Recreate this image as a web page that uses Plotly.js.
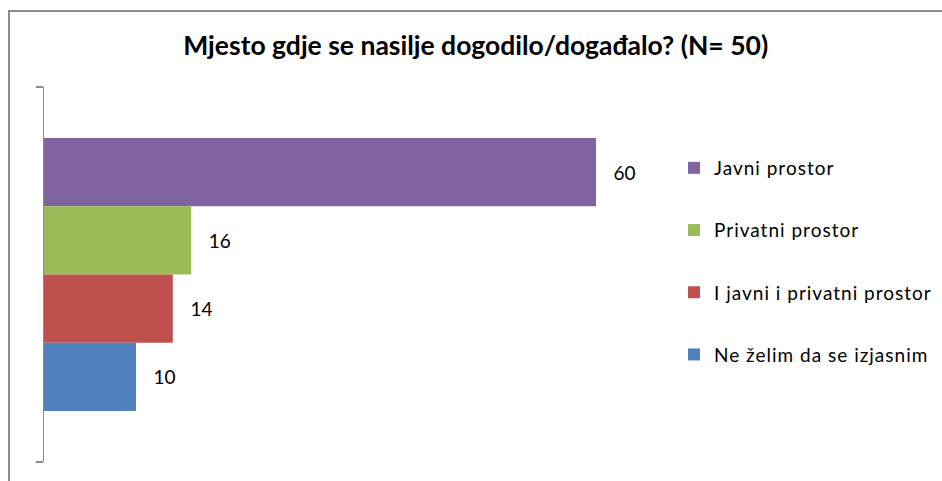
<!DOCTYPE html>
<html>
<head>
<meta charset="utf-8">
<script src="https://cdn.plot.ly/plotly-3.0.1.min.js"></script>
<style>
html,body{margin:0;padding:0;background:#fff;}
#wrap{position:relative;width:942px;height:481px;overflow:hidden;}
#chart{width:942px;height:481px;}
#frame{position:absolute;left:8px;top:10px;width:1000px;height:600px;border-left:2px solid #8c8c8c;border-top:2px solid #8c8c8c;pointer-events:none;}
#chart .legendtext{letter-spacing:1px;}
#chart .legend, #chart .legend *{clip-path:none !important;}
</style>
</head>
<body>
<div id="wrap"><div id="chart"></div><div id="frame"></div></div>
<script>
const titleText = 'Mjesto gdje se nasilje dogodilo/događalo? (N= 50)';
const category = ['Mjesto'];
const seriesNames = ['Javni prostor', 'Privatni prostor', 'I javni i privatni prostor', 'Ne želim da se izjasnim'];
const seriesValues = [60, 16, 14, 10];
const seriesColors = ['#8064A2', '#9BBB59', '#C0504D', '#4F81BD'];

const traces = seriesNames.map((name, i) => ({
  type: 'bar',
  orientation: 'h',
  name: name,
  y: category,
  x: [seriesValues[i]],
  marker: {color: seriesColors[i], line: {width: 0}},
  text: [String(seriesValues[i])],
  texttemplate: '\u00a0\u00a0\u00a0%{text}',
  textposition: 'outside',
  cliponaxis: false,
  textfont: {family: 'Lato, "Liberation Sans", sans-serif', size: 19, color: '#000'},
  legendgroup: 'g' + i,
  hoverinfo: 'skip'
}));

const layout = {
  width: 942, height: 481,
  margin: {l: 44, r: 254, t: 87, b: 19, autoexpand: false},
  paper_bgcolor: '#fff', plot_bgcolor: '#fff',
  barmode: 'group', bargap: 0.272, bargroupgap: 0,
  showlegend: true,
  title: {
    text: '<b>' + titleText + '</b>',
    font: {family: 'Lato, "Liberation Sans", sans-serif', size: 26.5, weight: 900, color: '#000'},
    x: 0.505, xref: 'container', xanchor: 'center',
    y: 1 - 46/481, yref: 'container', yanchor: 'middle'
  },
  xaxis: {range: [0, 70], showgrid: false, zeroline: false, showline: false, showticklabels: false, ticks: '', fixedrange: true},
  yaxis: {type: 'category', range: [0.5, -0.5], showgrid: false, zeroline: false, showline: true, linecolor: '#8c8c8c', linewidth: 1.5,
          ticks: 'outside', tickson: 'boundaries', ticklen: 7, tickcolor: '#8c8c8c', tickwidth: 1.5, showticklabels: false, fixedrange: true},
  legend: {
    x: 674/942, xref: 'container', xanchor: 'left',
    y: 1 - 149/481, yref: 'container', yanchor: 'top',
    traceorder: 'grouped', tracegroupgap: 34.5,
    font: {family: 'Lato, "Liberation Sans", sans-serif', size: 19, color: '#000'},
    bgcolor: 'rgba(0,0,0,0)', borderwidth: 0
  }
};

Plotly.newPlot('chart', traces, layout, {displayModeBar: false, staticPlot: true});
</script>
</body>
</html>
